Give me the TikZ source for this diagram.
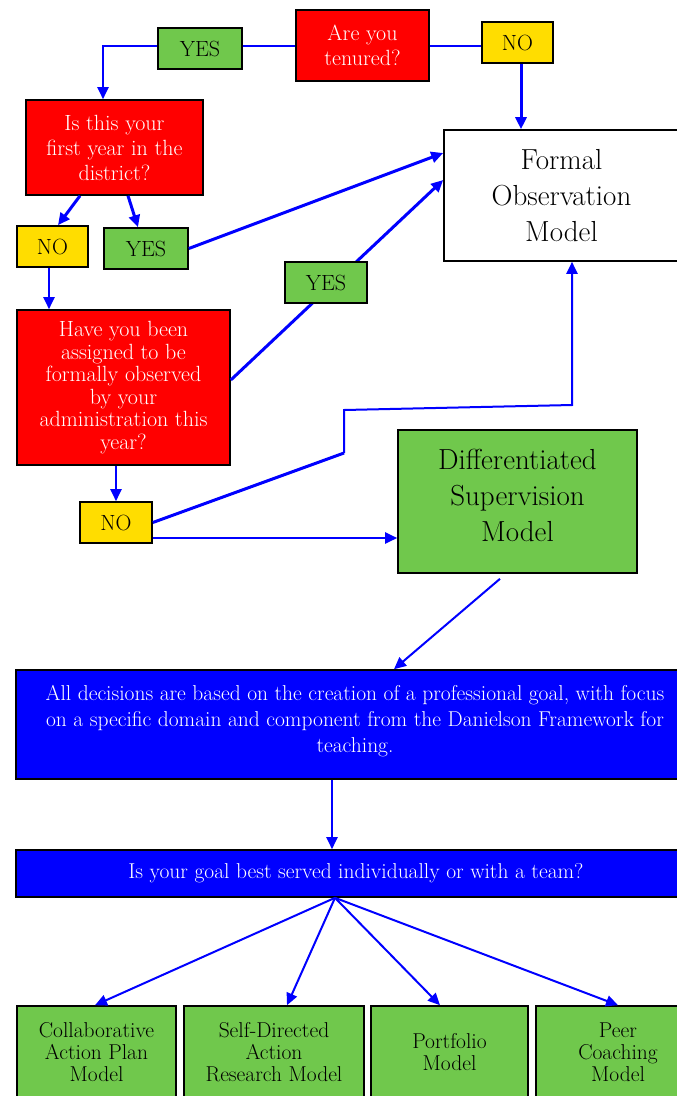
\documentclass[tikz,border=0pt]{standalone}
\usepackage{amsmath}
\usepackage{fontspec}
\usepackage{tikz}
\usepackage{xcolor}
\usetikzlibrary{arrows.meta}

\definecolor{askred}{RGB}{255,0,0}
\definecolor{modelgreen}{RGB}{112,200,76}
\definecolor{answeryellow}{RGB}{255,221,0}
\definecolor{flowblue}{RGB}{0,0,255}

\tikzset{
  box/.style={draw=black, line width=1.6, align=center, inner sep=0},
  question/.style={box, fill=askred, text=white, font=\fontsize{22}{25}\selectfont},
  yesbox/.style={box, fill=modelgreen, minimum width=84, minimum height=41, font=\fontsize{22}{22}\selectfont},
  nobox/.style={box, fill=answeryellow, minimum width=71, minimum height=41, font=\fontsize{22}{22}\selectfont},
  model/.style={box, font=\fontsize{29}{36}\selectfont},
  goalbox/.style={box, fill=flowblue, text=white, font=\fontsize{21.5}{26}\selectfont},
  pick/.style={box, fill=modelgreen, minimum height=92, font=\fontsize{21.5}{22}\selectfont},
  link/.style={draw=flowblue, line width=2},
  flow/.style={link, -{Triangle[length=12,width=11]}},
  thickflow/.style={flow, line width=3}
}

\begin{document}
\begin{tikzpicture}[x=1pt,y=-1pt]
\useasboundingbox (0,0) rectangle (677,1096);

\node[question, minimum width=133, minimum height=71] (tenured) at (362.5,45.5) {Are you\\tenured?};
\node[yesbox] (yes1) at (200,48.5) {YES};
\node[nobox] (no1) at (517.5,42.5) {NO};

\node[question, minimum width=177, minimum height=95] (first) at (114.5,147.5) {Is this your\\first year in the\\district?};
\node[model, fill=white, minimum width=235, minimum height=131] (formal) at (561.5,195.5) {Formal\\Observation\\Model};
\node[nobox] (no2) at (52.5,246.5) {NO};
\node[yesbox] (yes2) at (146,248.5) {YES};

\node[question, minimum width=213, minimum height=155, font=\fontsize{22}{22.5}\selectfont] (assigned) at (123.5,387.5)
  {Have you been\\assigned to be\\formally observed\\by your\\administration this\\year?};
\node[nobox, minimum width=72] (no3) at (116,522.5) {NO};
\node[model, fill=modelgreen, minimum width=239, minimum height=143] (diff) at (517.5,501.5) {Differentiated\\Supervision\\Model\\[-23pt]};

\node[goalbox, minimum width=678, minimum height=109] (decide) at (355,724.5)
  {All decisions are based on the creation of a professional goal, with focus\\on a specific domain and component from the Danielson Framework for\\teaching.\\[-15pt]};
\node[goalbox, minimum width=680, minimum height=47] (goal) at (356,873.5) {Is your goal best served individually or with a team?};

\node[pick, minimum width=159] (collab) at (96.5,1052) {Collaborative\\Action Plan\\Model};
\node[pick, minimum width=180] (self) at (274,1052) {Self-Directed\\Action\\Research Model};
\node[pick, minimum width=157] (portfolio) at (449.5,1052) {Portfolio\\Model};
\node[pick, minimum width=164] (peer) at (618,1052) {Peer\\Coaching\\Model};

\draw[link] (tenured.west) -- (tenured.west -| yes1.east);
\draw[flow] (yes1.west |- tenured.west) -| ([xshift=-11.5]first.north);
\draw[link] (tenured.east) -- (tenured.east -| no1.west);
\draw[thickflow] ([xshift=3.5]no1.south) -- ([xshift=3.5]no1.south |- formal.north);

\draw[thickflow] ([xshift=-34.5]first.south) -- ([xshift=5.5]no2.north);
\draw[thickflow] ([xshift=13.5]first.south) -- ([xshift=-8]yes2.north);
\draw[thickflow] (yes2.east) -- ([yshift=42.5]formal.west);
\draw[flow] ([xshift=-3.5]no2.south) -- ([xshift=-3.5]no2.south |- assigned.north);

\draw[thickflow] ([yshift=7.5]assigned.east) -- ([yshift=15.5]formal.west);
\node[yesbox, minimum width=82] (yes3) at (326,282.5) {YES};

\draw[flow] (no3.north |- assigned.south) -- (no3.north);
\draw[link, line width=3] (no3.east) -- (344,453);
\draw[flow] (344,453) -- (344,410) -- (572,405) -- ([xshift=10.5]formal.south);
\draw[flow] ([yshift=-15.5]no3.east) -- ([yshift=-15.5]no3.east -| diff.west);

\draw[flow] ([xshift=-17.5,yshift=-5]diff.south) -- ([xshift=39]decide.north);
\draw[flow] ([xshift=-23]decide.south) -- ([xshift=-23]decide.south |- goal.north);

\draw[flow] ([xshift=-21]goal.south) -- ([xshift=-1.5]collab.north);
\draw[flow] ([xshift=-21]goal.south) -- ([xshift=13]self.north);
\draw[flow] ([xshift=-21]goal.south) -- ([xshift=-9.5]portfolio.north);
\draw[flow] ([xshift=-21]goal.south) -- (peer.north);

\end{tikzpicture}
\end{document}
